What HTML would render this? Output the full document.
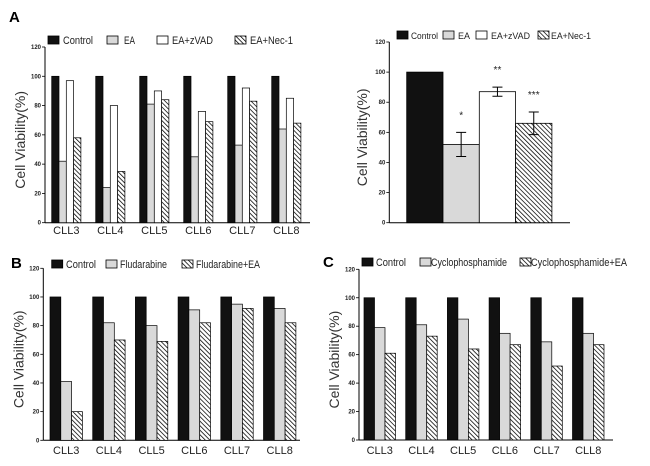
<!DOCTYPE html>
<html><head><meta charset="utf-8"><style>
body{margin:0;background:#fff;}
svg{display:block;font-family:"Liberation Sans",Arial,sans-serif;}
</style></head><body>
<svg id="fig" width="650" height="466" viewBox="0 0 650 466">
<defs>
<pattern id="hatch" width="3.2" height="3.2" patternUnits="userSpaceOnUse" patternTransform="rotate(-45)">
<rect width="3.2" height="3.2" fill="#fff"/>
<line x1="0" y1="0" x2="0" y2="3.2" stroke="#000" stroke-width="1.5"/>
</pattern>
</defs>
</svg>
<script>
const cats = ["CLL3","CLL4","CLL5","CLL6","CLL7","CLL8"];
const yTicks = [0,20,40,60,80,100,120];
const aControl = [100,100,100,100,100,100];
const aEA = [42,24,81,45,53,64];
const aZVAD = [97,80,90,76,92,85];
const aNec = [58,35,84,69,83,68];
const summaryLabels = ["Control","EA","EA+zVAD","EA+Nec-1"];
const summaryMeans = [100,52,87,66];
const summaryErr = [0,8,3,7.5];
const summaryStars = ["","*","**","***"];
const bControl = [100,100,100,100,100,100];
const bFlu = [41,82,80,91,95,92];
const bFluEA = [20,70,69,82,92,82];
const cControl = [100,100,100,100,100,100];
const cCyc = [79,81,85,75,69,75];
const cCycEA = [61,73,64,67,52,67];

const svg = document.getElementById('fig');
const NS = 'http://www.w3.org/2000/svg';
const fills = {control:'#111', light:'#d9d9d9', white:'#fff', hatch:'url(#hatch)'};
function el(tag, attrs, parent){
  const e = document.createElementNS(NS, tag);
  for (const k in attrs) e.setAttribute(k, attrs[k]);
  (parent||svg).appendChild(e);
  return e;
}
function txt(x,y,s,size,anchor,parent,extra){
  const t = el('text', Object.assign({x:x,y:y,'font-size':size,'text-anchor':anchor||'start',fill:'#222'}, extra||{}), parent);
  t.textContent = s;
  return t;
}
function axes(g, ax, y0, y120, xEnd, title, titleX){
  const yS = v => y0 - (y0 - y120) * v / 120;
  const a = el('line',{x1:ax,y1:y120,x2:ax,y2:y0,stroke:'#000','stroke-width':1},g);
  
  
  const xa = el('line',{x1:ax,y1:y0,x2:xEnd,y2:y0,stroke:'#000','stroke-width':1},g);
  
  
  yTicks.forEach(v=>{
    el('line',{x1:ax-3,y1:yS(v),x2:ax,y2:yS(v),stroke:'#000','stroke-width':0.8},g);
    const t = txt(ax-4, yS(v)+2, String(v), 6, 'end', g, {'font-weight':'bold'});
    
    
  });
  const yc = (y0+y120)/2 + 5;
  const tt = txt(titleX, yc, title, 14, 'middle', g, {transform:`rotate(-90 ${titleX} ${yc})`,fill:'#333'});
  
  
  return yS;
}
function legend(g, items, y, size){
  items.forEach(it=>{
    const r = el('rect',{x:it.bx,y:y-8,width:11,height:8,fill:fills[it.f],stroke:'#000','stroke-width':0.8},g);
    
    
    const t = txt(it.tx, y, it.label, size, 'start', g, {textLength:it.w, lengthAdjust:'spacingAndGlyphs'});
    
    
  });
}
function grouped(g, series, fillKeys, ax, y0, y120, xEnd, firstX, step, bw, labelY){
  const yS = axes(g, ax, y0, y120, xEnd, 'Cell Viability(%)', ax-20);
  cats.forEach((c,i)=>{
    const gx = firstX + i*step;
    series.forEach((s,j)=>{
      const r = el('rect',{x:gx+j*bw,y:yS(s[i]),width:bw,height:y0-yS(s[i]),fill:fills[fillKeys[j]],stroke:'#000','stroke-width':0.7},g);
      
      
    });
    const t = txt(gx + series.length*bw/2, labelY, c, 11, 'middle', g);
    
    
  });
}
function panelLabel(x,y,s){
  const t = txt(x,y,s,15,'start',svg,{'font-weight':'bold',fill:'#000'});
  
  
}

// Panel A left
const gA = el('g',{});


panelLabel(9,22,'A');
legend(gA,[{bx:48,tx:63,w:30,label:'Control',f:'control'},{bx:107,tx:124,w:11,label:'EA',f:'light'},{bx:157,tx:172,w:41,label:'EA+zVAD',f:'white'},{bx:235,tx:250,w:43,label:'EA+Nec-1',f:'hatch'}],44,11);
grouped(gA,[aControl,aEA,aZVAD,aNec],['control','light','white','hatch'],45,222.7,47,310,51.7,44,7.3,234);

// Panel A right summary
const gS = el('g',{});


legend(gS,[{bx:397,tx:411,w:27,label:'Control',f:'control'},{bx:443,tx:458,w:12,label:'EA',f:'light'},{bx:476,tx:491,w:39,label:'EA+zVAD',f:'white'},{bx:538,tx:551,w:40,label:'EA+Nec-1',f:'hatch'}],39,9);
{
  const ax=389.3, y0=222.7, y120=42;
  const yS = axes(gS, ax, y0, y120, 570, 'Cell Viability(%)', 367);
  const keys=['control','light','white','hatch'];
  const bx0=406.7, bw=36.3;
  summaryMeans.forEach((m,i)=>{
    const x = bx0 + i*bw;
    const r = el('rect',{x:x,y:yS(m),width:bw,height:y0-yS(m),fill:fills[keys[i]],stroke:'#000','stroke-width':0.8},gS);
    
    
    const e = summaryErr[i];
    if (e>0){
      const cx = x+bw/2;
      const p = el('path',{d:`M${cx} ${yS(m-e)}V${yS(m+e)}M${cx-5} ${yS(m-e)}H${cx+5}M${cx-5} ${yS(m+e)}H${cx+5}`,stroke:'#000','stroke-width':1,fill:'none'},gS);
      
      
      const s = txt(cx, yS(m+e)-14, summaryStars[i], 10, 'middle', gS);
      
      
    }
  });
}

// Panel B
const gB = el('g',{});


panelLabel(11,268,'B');
legend(gB,[{bx:51.7,tx:66,w:30,label:'Control',f:'control'},{bx:106,tx:120,w:47,label:'Fludarabine',f:'light'},{bx:182,tx:196,w:64,label:'Fludarabine+EA',f:'hatch'}],268,11);
grouped(gB,[bControl,bFlu,bFluEA],['control','light','hatch'],43.3,440.3,268.3,300,50,42.7,10.8,454);

// Panel C
const gC = el('g',{});


panelLabel(323,267,'C');
legend(gC,[{bx:362,tx:376,w:30,label:'Control',f:'control'},{bx:420,tx:431,w:76,label:'Cyclophosphamide',f:'light'},{bx:520,tx:531,w:96,label:'Cyclophosphamide+EA',f:'hatch'}],266,11);
grouped(gC,[cControl,cCyc,cCycEA],['control','light','hatch'],359,440,269.3,613,364,41.7,10.5,454);
</script>
</body></html>
